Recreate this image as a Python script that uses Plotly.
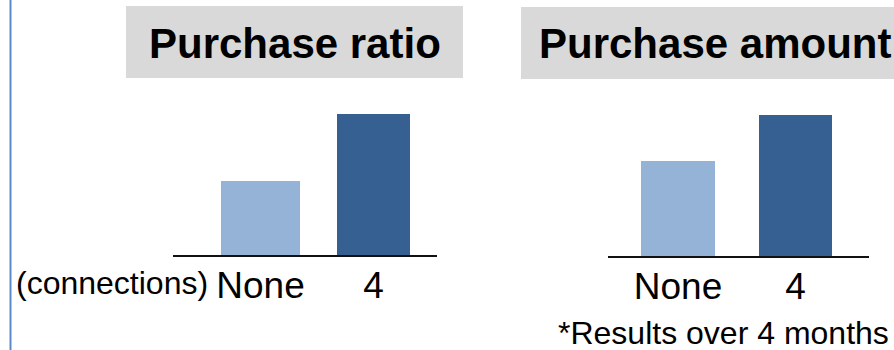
import plotly.graph_objects as go

# Connection categories and indexed results (None = 100)
categories = ["None", "4"]
ratio_values = [100, 190]
amount_values = [100, 148]

bar_colors = ["#95B3D7", "#376092"]
FONT = "Arial, Liberation Sans, sans-serif"

W, H = 894, 350


def fx(px):
    return px / W


def fy(px):
    return 1 - px / H


fig = go.Figure()

fig.add_trace(go.Bar(
    x=categories, y=ratio_values, marker=dict(color=bar_colors, line=dict(width=0)),
    width=[0.70, 0.65], xaxis="x", yaxis="y", showlegend=False, hoverinfo="skip",
))
fig.add_trace(go.Bar(
    x=categories, y=amount_values, marker=dict(color=bar_colors, line=dict(width=0)),
    width=[0.63, 0.62], xaxis="x2", yaxis="y2", showlegend=False, hoverinfo="skip",
))

x_common = dict(
    type="category", showline=True, linecolor="#111111", linewidth=2,
    ticks="", showgrid=False, zeroline=False, fixedrange=True, ticklabelstandoff=-3,
    tickfont=dict(family=FONT, size=37, color="#000000"),
)
y_common = dict(visible=False, showgrid=False, zeroline=False, fixedrange=True)

fig.update_layout(
    width=W, height=H,
    margin=dict(l=0, r=0, t=0, b=0),
    paper_bgcolor="white", plot_bgcolor="rgba(0,0,0,0)",
    bargap=0,
    xaxis=dict(domain=[fx(173), fx(437)], range=[-0.774, 1.562], anchor="y", **x_common),
    yaxis=dict(domain=[fy(255), fy(100)], range=[0, 209.5], anchor="x", **y_common),
    xaxis2=dict(domain=[fx(608), fx(869)], range=[-0.596, 1.626], anchor="y2", **x_common),
    yaxis2=dict(domain=[fy(256), fy(100)], range=[0, 164.2], anchor="x2", **y_common),
    shapes=[
        dict(type="rect", xref="paper", yref="paper", x0=fx(126), x1=fx(463), y0=fy(78), y1=fy(6),
             fillcolor="#D9D9D9", line=dict(width=0), layer="below"),
        dict(type="rect", xref="paper", yref="paper", x0=fx(521), x1=1.0, y0=fy(79), y1=fy(7),
             fillcolor="#D9D9D9", line=dict(width=0), layer="below"),
        dict(type="line", xref="paper", yref="paper", x0=fx(10.5), x1=fx(10.5), y0=0, y1=1,
             line=dict(color="#5A8ACB", width=2)),
    ],
    annotations=[
        dict(text="<b>Purchase ratio</b>", xref="paper", yref="paper", x=fx(294.5), y=fy(43),
             xanchor="center", yanchor="middle", showarrow=False,
             font=dict(family=FONT, size=42, color="#000000")),
        dict(text="<b>Purchase amount</b>", xref="paper", yref="paper", x=fx(537), y=fy(43),
             xanchor="left", yanchor="middle", showarrow=False,
             font=dict(family=FONT, size=42, color="#000000")),
        dict(text="(connections)", xref="paper", yref="paper", x=fx(14), y=fy(283),
             xanchor="left", yanchor="middle", showarrow=False,
             font=dict(family=FONT, size=32, color="#000000")),
        dict(text="*Results over 4 months", xref="paper", yref="paper", x=fx(891), y=fy(333),
             xanchor="right", yanchor="middle", showarrow=False,
             font=dict(family=FONT, size=32, color="#000000")),
    ],
)

fig.write_html("out.html")
